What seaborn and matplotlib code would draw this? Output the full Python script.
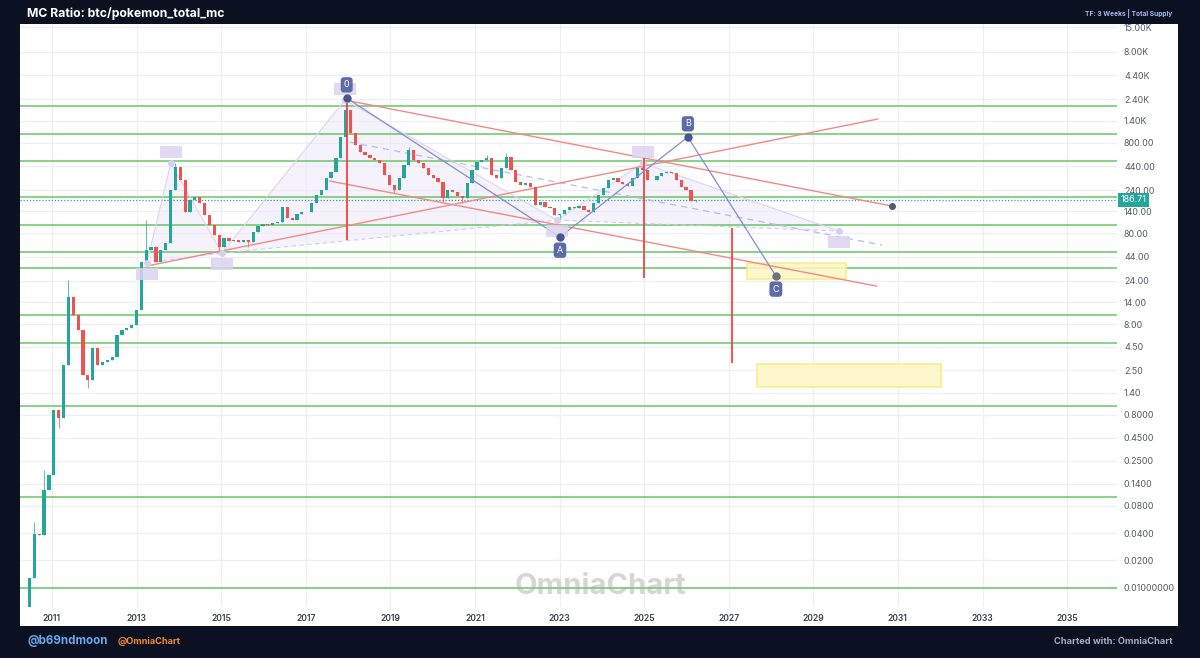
import numpy as np
import pandas as pd
import matplotlib
matplotlib.use("Agg")
import matplotlib.pyplot as plt
import matplotlib.dates as mdates
import matplotlib.transforms as mtransforms
from matplotlib.patches import Rectangle, Polygon
from matplotlib.path import Path
import seaborn as sns

# ---- data ----
candle_start = "2010-06-21"
candle_step_days = 42
first_open = 0.005
closes = [
    0.0128, 0.039, 0.038, 0.119, 0.175, 0.91, 0.74, 2.84, 15.9, 10.1,
    6.9, 2.2, 1.94, 4.4, 2.84, 3.07, 3.2, 3.48, 6.1, 6.9,
    7.3, 7.8, 11.5, 38.7, 52, 57, 38.7, 52, 63, 240,
    430, 310, 137, 187, 201, 173, 128, 99, 77, 57,
    71, 66, 68, 64, 68, 64, 83, 96, 101, 99,
    103, 107, 156, 118, 112, 131, 137, 137, 173, 212,
    240, 326, 379, 541, 922, 1830, 1020, 752, 630, 583,
    541, 514, 476, 352, 273, 240, 326, 453, 662, 514,
    476, 420, 352, 326, 294, 196, 240, 229, 206, 196,
    287, 399, 489, 514, 541, 352, 326, 420, 554, 399,
    294, 273, 287, 259, 164, 177, 156, 152, 128, 131,
    145, 156, 152, 160, 145, 137, 173, 212, 253, 310,
    326, 294, 280, 266, 326, 420, 399, 310, 310, 343,
    370, 379, 370, 310, 259, 240, 182, 186.71,
]
wick_highs = {1: 0.053, 3: 0.2, 8: 24.5, 24: 112, 30: 476, 65: 2355,
              78: 715, 94: 583, 98: 614, 126: 476}
wick_lows = {6: 0.575, 12: 1.58, 39: 48, 45: 57, 75: 223, 85: 178,
             89: 173, 109: 112, 137: 178}

green_levels = [2000, 1000, 500, 200, 100, 50, 33, 10, 5, 1, 0.1, 0.01]
last_price = 186.71

ytick_values = [15000, 8000, 4400, 2400, 1400, 800, 440, 240, 140, 80, 44, 24,
                14, 8, 4.5, 2.5, 1.4, 0.8, 0.45, 0.25, 0.14, 0.08, 0.04, 0.02, 0.01]
ytick_labels = ["15.00K", "8.00K", "4.40K", "2.40K", "1.40K", "800.00", "440.00",
                "240.00", "140.00", "80.00", "44.00", "24.00", "14.00", "8.00",
                "4.50", "2.50", "1.40", "0.8000", "0.4500", "0.2500", "0.1400",
                "0.0800", "0.0400", "0.0200", "0.01000000"]
xtick_years = list(range(2011, 2036, 2))

# red trend lines
red_start_dates = ["2017-12-05", "2013-03-30", "2017-07-27"]
red_start_values = [2355, 35, 302]
red_end_dates = ["2030-11-10", "2030-07-12", "2030-07-02"]
red_end_values = [160, 1455, 21]

# red vertical markers
vline_dates = ["2017-12-20", "2025-01-01", "2027-01-28"]
vline_lows = [68, 25.8, 3.0]
vline_highs = [2180, 541, 92]

# blue 0-A-B-C path
blue_dates = ["2017-12-20", "2023-01-05", "2026-01-13", "2028-02-12"]
blue_values = [2478, 73, 922, 27.2]
blue_labels = ["0", "A", "B", "C"]

# lavender harmonic points
harm_dates = ["2013-03-30", "2013-10-23", "2015-01-08", "2017-12-05",
              "2022-12-10", "2024-12-20", "2029-08-08"]
harm_values = [37.8, 476, 48.6, 2355, 112, 476, 85]

long_dash_dates = ["2018-01-15", "2030-08-15"]
long_dash_values = [811, 59.6]

# yellow target zones
zone_starts = ["2027-06-05", "2027-09-01"]
zone_ends = ["2029-10-08", "2032-01-08"]
zone_lows = [25.2, 1.63]
zone_highs = [37.8, 2.92]

# ---- style ----
BG = "#0b1120"
UP = "#26a69a"
DOWN = "#ef5350"

sns.set_theme(style="white")
plt.rcParams["font.family"] = ["Inter", "DejaVu Sans"]

W, H = 1200, 658
fig = plt.figure(figsize=(12, 6.58), dpi=100, facecolor=BG)
fig.add_artist(Rectangle((20 / W, 1 - 626 / H), 1158 / W, 602 / H,
                         transform=fig.transFigure, facecolor="white",
                         edgecolor="none", zorder=-5))
ax = fig.add_axes([20 / W, 1 - 607 / H, 1097 / W, 583 / H])
ax.set_facecolor("white")

def dnum(s):
    return mdates.date2num(pd.Timestamp(s))

# candles
dates = pd.date_range(candle_start, periods=len(closes), freq=f"{candle_step_days}D")
xs = mdates.date2num(dates)
opens = [first_open] + closes[:-1]
highs = [wick_highs.get(i, max(o, c)) for i, (o, c) in enumerate(zip(opens, closes))]
lows = [wick_lows.get(i, min(o, c)) for i, (o, c) in enumerate(zip(opens, closes))]
cols = [UP if c >= o else DOWN for o, c in zip(opens, closes)]
ax.vlines(xs, lows, highs, colors=cols, linewidth=0.8, alpha=0.7, zorder=3)
ax.bar(xs, [abs(c - o) for o, c in zip(opens, closes)],
       bottom=[min(o, c) for o, c in zip(opens, closes)],
       width=28, color=cols, linewidth=0, zorder=4)

# horizontal green levels and price line
for lv in green_levels:
    ax.axhline(lv, color="#74c974", linewidth=1.2, zorder=2)
ax.axhline(last_price, color=UP, linewidth=0.9, linestyle=(0, (1, 1.5)), zorder=2)

# lavender harmonic pattern
hx = [dnum(d) for d in harm_dates]
for tri in [(0, 1, 2), (2, 3, 4), (4, 5, 6)]:
    ax.add_patch(Polygon([(hx[i], harm_values[i]) for i in tri], closed=True,
                         facecolor="#ebe4f7", edgecolor="none", alpha=0.45, zorder=1))
ax.plot(hx, harm_values, color="#ddd4f0", linewidth=0.8, zorder=2)
for a, b in [(0, 2), (2, 4), (4, 6)]:
    ax.plot([hx[a], hx[b]], [harm_values[a], harm_values[b]], color="#d3caee",
            linewidth=0.8, linestyle=(0, (4, 3)), zorder=2)
ax.plot([dnum(d) for d in long_dash_dates], long_dash_values, color="#b9bde6",
        linewidth=0.9, linestyle=(0, (5, 4)), zorder=2)

# faded label boxes of the harmonic points (drawn as wide markers)
box_marker = Path([(-1, -0.55), (1, -0.55), (1, 0.55), (-1, 0.55), (-1, -0.55)],
                  [Path.MOVETO, Path.LINETO, Path.LINETO, Path.LINETO, Path.CLOSEPOLY])
for i, (x, v) in enumerate(zip(hx, harm_values)):
    side = 1 if i % 2 else -1
    tr = mtransforms.offset_copy(ax.transData, fig=fig, x=0, y=11 * side, units="dots")
    ax.plot(x, v, marker=box_marker, markersize=16, color="#dcd3ef", alpha=0.85,
            markeredgewidth=0, transform=tr, zorder=6)
    ax.plot(x, v, "o", color="#d9cff0", markersize=4, zorder=5)

# yellow zones
for s, e, lo, hi in zip(zone_starts, zone_ends, zone_lows, zone_highs):
    ax.add_patch(Rectangle((dnum(s), lo), dnum(e) - dnum(s), hi - lo,
                           facecolor="#fff6c4", edgecolor="#f5ec7a", linewidth=1.2,
                           alpha=0.85, zorder=2))

# red trend lines and verticals
for sd, sv, ed, ev in zip(red_start_dates, red_start_values, red_end_dates, red_end_values):
    ax.plot([dnum(sd), dnum(ed)], [sv, ev], color="#f08a8a", linewidth=1.0, zorder=3)
ax.plot(dnum(red_end_dates[0]), red_end_values[0], "o", color="#555a66", markersize=4, zorder=6)
ax.vlines([dnum(d) for d in vline_dates], vline_lows, vline_highs,
          colors="#f04545", linewidth=1.3, zorder=5)

# blue path with labels
bx = [dnum(d) for d in blue_dates]
sns.lineplot(x=bx, y=blue_values, sort=False, color="#7f8fd0", linewidth=0.9,
             ax=ax, zorder=5)
sns.scatterplot(x=bx[:3], y=blue_values[:3], color="#46578f", s=36, linewidth=0,
                ax=ax, zorder=7)
sns.scatterplot(x=bx[3:], y=blue_values[3:], color="#6b7280", s=36, linewidth=0,
                ax=ax, zorder=7)
for i, (x, v, lab) in enumerate(zip(bx, blue_values, blue_labels)):
    side = 1 if i % 2 == 0 else -1
    ax.annotate(lab, xy=(x, v), xytext=(0, 9.5 * side), textcoords="offset points",
                ha="center", va="center", fontsize=6.5, color="white",
                bbox=dict(boxstyle="round,pad=0.35", fc="#5d6ca8", ec="none"), zorder=8)

# axes formatting
ax.set_yscale("log")
ax.set_ylim(0.00614, 16200)
ax.set_xlim(dnum("2010-03-31"), dnum("2036-03-07"))
ax.set_yticks(ytick_values)
ax.set_yticklabels(ytick_labels)
ax.yaxis.set_minor_locator(matplotlib.ticker.NullLocator())
ax.yaxis.tick_right()
ax.set_xticks([dnum(f"{y}-01-01") for y in xtick_years])
ax.set_xticklabels([str(y) for y in xtick_years])
ax.tick_params(axis="y", length=0, pad=5, labelsize=6.4, labelcolor="#555b66")
ax.tick_params(axis="x", length=0, pad=5, labelsize=6.2, labelcolor="#3a3f4a")
for t in ax.get_xticklabels():
    t.set_fontweight("semibold")
ax.grid(True, color="#eeeff2", linewidth=0.9, zorder=0)
ax.set_axisbelow(True)
for sp in ax.spines.values():
    sp.set_visible(False)

# price tag
ax.text(1.003, last_price, "186.71",
        transform=mtransforms.blended_transform_factory(ax.transAxes, ax.transData),
        ha="left", va="center", fontsize=6.5, color="white", clip_on=False,
        bbox=dict(boxstyle="square,pad=0.3", fc=UP, ec="none"), zorder=9)

# watermark
ax.text(0.529, 0.035, "OmniaChart", transform=ax.transAxes, ha="center", va="center",
        fontsize=21, fontweight="bold", color="#d6d6d6", zorder=1)

# header / footer bars
fig.add_artist(Rectangle((0, 1 - 24 / H), 1, 24 / H, transform=fig.transFigure,
                         facecolor=BG, edgecolor="none", zorder=10))
fig.text(27 / W, 1 - 13 / H, "MC Ratio: btc/pokemon_total_mc", ha="left", va="center",
         fontsize=8.8, fontweight="bold", color="white", zorder=11)
fig.text(1172 / W, 1 - 14 / H, "TF: 3 Weeks | Total Supply", ha="right", va="center",
         fontsize=4.8, fontweight="bold", color="#aab4ee", zorder=11)
fig.text(27 / W, 1 - 641 / H, "@b69ndmoon", ha="left", va="center",
         fontsize=8.3, fontweight="bold", color="#6aa6ee")
fig.text(118 / W, 1 - 642 / H, "@OmniaChart", ha="left", va="center",
         fontsize=6.6, fontweight="bold", color="#f08a36")
fig.text(1172 / W, 1 - 641 / H, "Charted with: OmniaChart", ha="right", va="center",
         fontsize=6.7, fontweight="bold", color="#a3abc2")

fig.savefig("out.png", dpi=100, facecolor=BG)
